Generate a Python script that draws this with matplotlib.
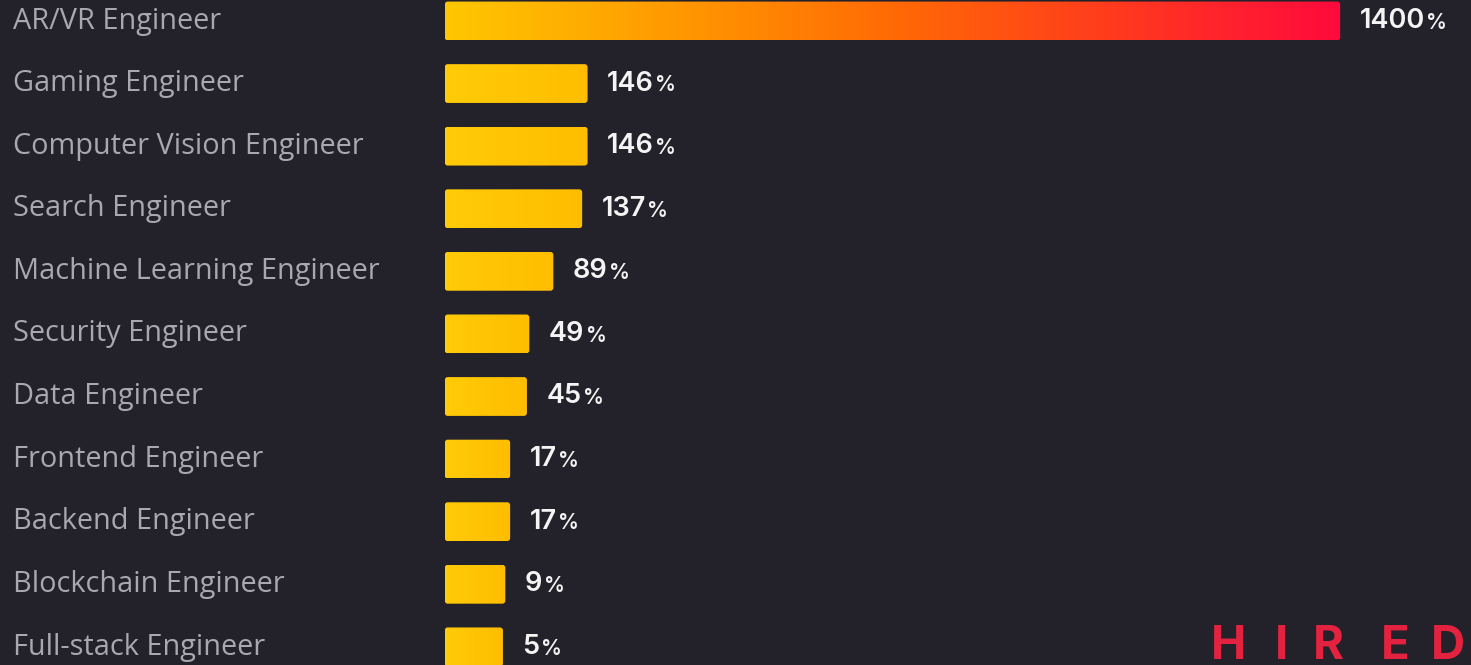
import numpy as np
import matplotlib.pyplot as plt
from matplotlib.patches import FancyBboxPatch
from matplotlib.colors import LinearSegmentedColormap

# Job title growth (% increase in demand)
roles = [
    "AR/VR Engineer",
    "Gaming Engineer",
    "Computer Vision Engineer",
    "Search Engineer",
    "Machine Learning Engineer",
    "Security Engineer",
    "Data Engineer",
    "Frontend Engineer",
    "Backend Engineer",
    "Blockchain Engineer",
    "Full-stack Engineer",
]
growth = [1400, 146, 146, 137, 89, 49, 45, 17, 17, 9, 5]
value_labels = ["1400", "146", "146", "137", "89", "49", "45", "17", "17", "9", "5"]

BG = "#23222b"
LABEL_COLOR = "#a9a8b1"
STUB = 92  # every bar starts with a short stub left of zero

yellow_cmap = LinearSegmentedColormap.from_list("yel", ["#ffcb08", "#ffbd00"])
hot_cmap = LinearSegmentedColormap.from_list(
    "hot", ["#ffc700", "#ff9a00", "#ff6a05", "#ff3a1e", "#ff0a3c"]
)

fig = plt.figure(figsize=(14.71, 6.65), dpi=100, facecolor=BG)
ax = fig.add_axes([0, 0, 1, 1])
ax.set_facecolor(BG)

y = np.arange(len(roles))
bars = ax.barh(y, [g + STUB for g in growth], left=-STUB, height=0.62, color="none")

ax.set_xlim(-833, 1618)
ax.set_ylim(10.29, -0.335)
ax.axis("off")

# px -> data scale, used for rounded corners
px_x = 2451 / 1471
px_y = 10.625 / 665

for i, bar in enumerate(bars):
    x0, y0 = bar.get_x(), bar.get_y()
    w, h = bar.get_width(), bar.get_height()
    patch = FancyBboxPatch(
        (x0, y0), w, h,
        boxstyle=f"round,pad=0,rounding_size={3 * px_x}",
        mutation_aspect=px_y / px_x,
        facecolor="none", edgecolor="none",
    )
    ax.add_patch(patch)
    cmap = hot_cmap if i == 0 else yellow_cmap
    grad = np.linspace(0, 1, 256).reshape(1, -1)
    im = ax.imshow(
        grad, cmap=cmap, aspect="auto",
        extent=(x0, x0 + w, y0 + h, y0), interpolation="bilinear",
    )
    im.set_clip_path(patch)

    # value label, number then smaller percent sign
    t = ax.annotate(
        value_labels[i], xy=(x0 + w, y[i]), xytext=(14, 0),
        textcoords="offset points", va="center", ha="left",
        fontsize=19.5, fontweight="semibold", color="#f4f4f4", family="Inter",
    )
    ax.annotate(
        "%", xy=(1, 0.2), xycoords=t, xytext=(1, 0), textcoords="offset points",
        va="baseline", ha="left", fontsize=15, fontweight="semibold",
        color="#f4f4f4", family="Inter",
    )

# category labels on the left
for i, name in enumerate(roles):
    ax.text(13 / 1471, 1 - (21 + i * 62.6) / 665, name, transform=fig.transFigure,
            ha="left", va="center", fontsize=20.8, color=LABEL_COLOR,
            family="Open Sans")

# HIRED logo, partially cut at the bottom
for letter, px in zip("HIRED", [1229, 1282, 1328, 1395, 1448]):
    fig.text(px / 1471, 1 - 625 / 665, letter, ha="center", va="top",
             fontsize=34, fontweight="bold", color="#e3223f", family="Inter")

fig.savefig("out.png", dpi=100, facecolor=BG)
